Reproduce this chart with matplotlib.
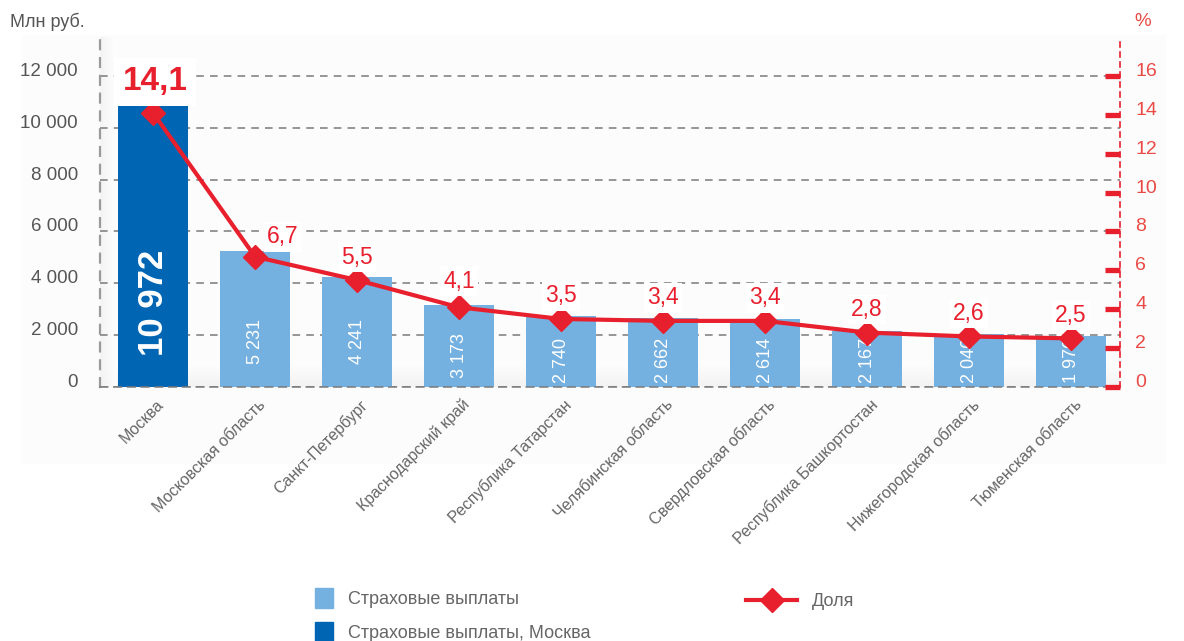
import matplotlib.pyplot as plt
import numpy as np
from matplotlib.lines import Line2D
from matplotlib.patches import Rectangle
from matplotlib.transforms import ScaledTranslation

plt.rcParams["font.family"] = ["Liberation Sans", "DejaVu Sans"]

regions = [
    "Москва",
    "Московская область",
    "Санкт-Петербург",
    "Краснодарский край",
    "Республика Татарстан",
    "Челябинская область",
    "Свердловская область",
    "Республика Башкортостан",
    "Нижегородская область",
    "Тюменская область",
]
payouts = [10972, 5231, 4241, 3173, 2740, 2662, 2614, 2167, 2046, 1976]
payout_labels = ["10 972", "5 231", "4 241", "3 173", "2 740",
                 "2 662", "2 614", "2 167", "2 046", "1 976"]
shares = [14.1, 6.7, 5.5, 4.1, 3.5, 3.4, 3.4, 2.8, 2.6, 2.5]
share_labels = ["14,1", "6,7", "5,5", "4,1", "3,5", "3,4", "3,4", "2,8", "2,6", "2,5"]

left_ticks = [0, 2000, 4000, 6000, 8000, 10000, 12000]
left_tick_labels = ["0", "2 000", "4 000", "6 000", "8 000", "10 000", "12 000"]
right_ticks = [0, 2, 4, 6, 8, 10, 12, 14, 16]

DARK_BLUE = "#0066b3"
LIGHT_BLUE = "#74b0e0"
RED = "#e8202e"
RED_TEXT = "#ea4a45"
GRAY_TEXT = "#555555"
GRID = "#7a7a7a"

W, H = 1184, 641
fig = plt.figure(figsize=(W / 100, H / 100), dpi=100)


def fx(px):
    return px / W


def fy(py):
    return 1 - py / H


# светлая подложка под графиком
fig.add_artist(Rectangle((fx(22), fy(463)), (1165 - 22) / W, (463 - 35) / H,
                         transform=fig.transFigure, color="#fcfcfc", zorder=-5))

ax = fig.add_axes([100 / W, 1 - 387 / H, 1020 / W, 350 / H])
ax.patch.set_visible(False)
ax2 = ax.twinx()

x = np.arange(len(regions))
xlim = (-0.52, 9.48)

# тени у "пола" и у левой оси
shade = np.linspace(1, 0, 64).reshape(-1, 1)
ax.imshow(shade, extent=(xlim[0], xlim[1], 0, 1000), aspect="auto",
          cmap="Greys", vmin=0, vmax=9, alpha=0.9, zorder=0.5, origin="lower")
side_shade = np.linspace(1, 0, 32).reshape(1, -1)
ax.imshow(side_shade, extent=(xlim[0], xlim[0] + 0.16, 0, 13500), aspect="auto",
          cmap="Greys", vmin=0, vmax=9, alpha=0.8, zorder=0.5)

colors = [DARK_BLUE] + [LIGHT_BLUE] * (len(regions) - 1)
ax.bar(x, payouts, width=0.69, color=colors, zorder=2)

label_base = {1: 900, 2: 900, 3: 350}
for i, (xi, lab) in enumerate(zip(x, payout_labels)):
    if i == 0:
        ax.text(xi, 3230, lab, rotation=90, ha="center", va="center",
                color="white", fontsize=25, fontweight="bold", zorder=3)
    else:
        ax.text(xi, label_base.get(i, 160), lab, rotation=90, ha="center",
                va="bottom", color="white", fontsize=13, zorder=3)

ax.set_xlim(*xlim)
ax.set_ylim(0, 13500)
ax.set_yticks(left_ticks, left_tick_labels)
ax.yaxis.grid(True, color=GRID, linestyle=(0, (5, 4)), linewidth=1.1, zorder=1)
ax.set_axisbelow(True)
ax.tick_params(axis="y", length=0, pad=16, labelsize=13.5, labelcolor=GRAY_TEXT)
for lab in ax.get_yticklabels():
    lab.set_verticalalignment("baseline")

ax.set_xticks(x, regions)
ax.tick_params(axis="x", length=0, pad=11, labelsize=11.5, labelcolor="#666666")
offset = ScaledTranslation(8 / 100, 0, fig.dpi_scale_trans)
for lab in ax.get_xticklabels():
    lab.set_rotation(45)
    lab.set_ha("right")
    lab.set_va("center")
    lab.set_rotation_mode("anchor")
    lab.set_transform(lab.get_transform() + offset)

ax.spines["top"].set_visible(False)
ax.spines["right"].set_visible(False)
ax.spines["left"].set_color("#9a9a9a")
ax.spines["left"].set_linestyle((0, (4, 4)))
ax.spines["left"].set_linewidth(1.6)
ax.spines["bottom"].set_color(GRID)
ax.spines["bottom"].set_linestyle((0, (5, 4)))
ax.spines["bottom"].set_linewidth(1.1)

# правая ось — доля, %
ax2.plot(x, shares, color=RED, linewidth=3, marker="D", markersize=12,
         zorder=5, clip_on=False)
ax2.set_ylim(0, 18)
ax2.set_yticks(right_ticks)
ax2.tick_params(axis="y", direction="in", length=10.5, width=3.8, color=RED,
                pad=11, labelsize=14, labelcolor=RED_TEXT)
for lab in ax2.get_yticklabels():
    lab.set_verticalalignment("baseline")
for side in ["top", "left", "bottom"]:
    ax2.spines[side].set_visible(False)
ax2.spines["right"].set_color(RED)
ax2.spines["right"].set_linestyle((0, (3, 3)))
ax2.spines["right"].set_linewidth(1.2)

label_offsets = {0: (2, 31), 1: (28, 20), 3: (0, 26)}
for i, (xi, yi, lab) in enumerate(zip(x, shares, share_labels)):
    dx, dy = label_offsets.get(i, (0, 23))
    if i == 0:
        ax2.annotate(lab, (xi, yi), xytext=(dx * 0.72, dy * 0.72),
                     textcoords="offset points", ha="center", va="center",
                     color=RED, fontsize=24, fontweight="bold", zorder=6,
                     bbox=dict(boxstyle="square,pad=0.25", fc="white", ec="none"))
    else:
        ax2.annotate(lab, (xi, yi), xytext=(dx * 0.72, dy * 0.72),
                     textcoords="offset points", ha="center", va="center",
                     color=RED, fontsize=16.5, zorder=6,
                     bbox=dict(boxstyle="square,pad=0.15", fc="white", ec="none"))

ax.set_zorder(1)
ax2.set_zorder(2)
ax2.patch.set_visible(False)

fig.text(10 / W, 1 - 22 / H, "Млн руб.", fontsize=13, color=GRAY_TEXT,
         ha="left", va="center")
fig.text(1143 / W, 1 - 22 / H, "%", fontsize=13.5, color=RED_TEXT,
         ha="center", va="center")

# легенда
fig.add_artist(Rectangle((fx(315), fy(608)), 18 / W, 20 / H,
                         transform=fig.transFigure, color=LIGHT_BLUE))
fig.add_artist(Rectangle((fx(315), fy(642)), 18 / W, 20 / H,
                         transform=fig.transFigure, color=DARK_BLUE))
fig.text(fx(348), fy(600), "Страховые выплаты", fontsize=13,
         color="#666666", ha="left", va="center")
fig.text(fx(348), fy(633), "Страховые выплаты, Москва", fontsize=13,
         color="#666666", ha="left", va="center")
fig.add_artist(Line2D([fx(746), fx(797)], [fy(600), fy(600)],
                      transform=fig.transFigure, color=RED, linewidth=3))
fig.add_artist(Line2D([fx(772)], [fy(600)], transform=fig.transFigure,
                      color=RED, marker="D", markersize=12))
fig.text(fx(812), fy(601), "Доля", fontsize=13, color="#666666",
         ha="left", va="center")

fig.savefig("out.png", dpi=100, facecolor="white")
